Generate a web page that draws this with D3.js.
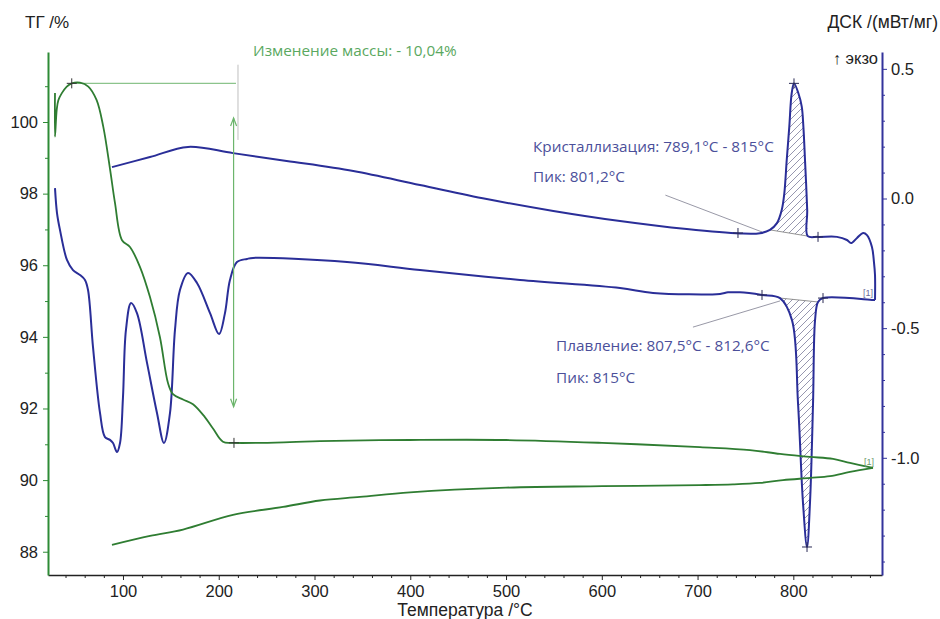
<!DOCTYPE html>
<html><head><meta charset="utf-8">
<script src="https://cdn.jsdelivr.net/npm/d3@7"></script>
<style>body{margin:0;background:#fff}svg{display:block}</style>
</head><body><svg id="c" width="940" height="619"></svg>
<script>
// ---------- DATA ----------
// TG (%) vs temperature (°C)
const tgHeating = [[29.0,100.81],[29.0,99.59],[30.8,100.34],[32.5,100.61],[36.0,100.80],[41.3,100.99],[46.5,101.08],[55.1,101.10],[63.8,100.99],[72.5,100.61],[79.4,99.87],[86.4,98.70],[91.6,97.75],[99.0,96.70],[107.3,96.51],[117.8,95.95],[128.2,95.11],[138.6,93.99],[147.0,92.71],[152.2,92.40],[162.7,92.25],[173.1,92.12],[185.5,91.76],[194.0,91.44],[204.4,91.07],[214.9,91.04],[274.4,91.06],[305.7,91.09],[399.7,91.12],[499.9,91.12],[600.2,91.04],[702.5,90.92],[754.8,90.84],[786.1,90.73],[817.4,90.65],[841.5,90.59],[859.2,90.48],[883.2,90.34]];
const tgCooling = [[883.2,90.34],[859.2,90.23],[838.3,90.11],[817.4,90.06],[789.2,90.00],[765.2,89.92],[737.0,89.88],[702.5,89.86],[600.2,89.83],[499.9,89.79],[399.7,89.66],[347.5,89.53],[305.7,89.43],[267.1,89.25],[214.9,89.03],[162.7,88.62],[128.2,88.44],[88.5,88.19]];
// DSC (mW/mg) vs temperature (°C)
const dscHeating = [[29.0,0.040],[31.1,-0.056],[34.2,-0.121],[41.5,-0.237],[47.8,-0.276],[55.1,-0.295],[60.3,-0.314],[63.5,-0.353],[68.7,-0.573],[76.0,-0.827],[81.2,-0.920],[86.4,-0.931],[89.6,-0.943],[93.7,-0.978],[96.9,-0.943],[100.0,-0.766],[103.1,-0.507],[108.4,-0.403],[114.6,-0.442],[125.1,-0.634],[135.5,-0.827],[142.8,-0.943],[149.1,-0.827],[154.3,-0.507],[159.5,-0.353],[167.9,-0.287],[177.3,-0.326],[190.9,-0.442],[200.3,-0.523],[206.5,-0.442],[211.7,-0.314],[219.0,-0.245],[229.5,-0.233],[235.8,-0.229],[333.9,-0.245],[410.1,-0.276],[514.6,-0.314],[619.0,-0.345],[653.5,-0.364],[723.4,-0.368],[731.8,-0.362],[744.3,-0.362],[767.3,-0.372],[786.1,-0.384],[798.6,-0.469],[804.9,-0.789],[810.1,-1.174],[814.3,-1.344],[817.4,-1.174],[820.6,-0.789],[822.7,-0.469],[825.8,-0.399],[831.0,-0.384],[883.2,-0.391],[885.3,-0.391]];
const dscCooling = [[885.3,-0.391],[885.3,-0.295],[884.2,-0.245],[882.1,-0.187],[876.9,-0.141],[872.8,-0.133],[866.5,-0.152],[860.2,-0.172],[856.0,-0.160],[845.6,-0.148],[825.8,-0.148],[815.1,-0.145],[814.5,-0.044],[812.2,0.148],[810.5,0.277],[808.8,0.354],[805.3,0.406],[800.7,0.444],[798.3,0.406],[795.8,0.277],[793.1,0.148],[790.6,0.020],[787.9,-0.044],[782.7,-0.096],[775.6,-0.121],[765.2,-0.134],[744.3,-0.135],[688.7,-0.118],[619.0,-0.087],[549.4,-0.048],[479.8,-0.002],[410.1,0.052],[340.5,0.106],[270.9,0.145],[214.9,0.175],[167.9,0.199],[128.2,0.160],[88.5,0.121]];

// ticks
const xMajor = [100,200,300,400,500,600,700,800];
const xMinor = d3.range(40, 890, 20);
const tgMajor = [88,90,92,94,96,98,100];
const tgMinor = [89,91,93,95,97,99,101];
const dscMajor = [-1.0,-0.5,0.0,0.5];
const dscMinor = d3.range(-14, 6, 1).map(d => d/10);

// analysis markers
const tgMarks = [[46.5,101.08],[215.9,91.04]];
const dscMarks = [[742.2,-0.133],[825.8,-0.148],[800.7,0.444],[767.3,-0.372],[831.0,-0.384],[814.3,-1.344]];
const crystHatch = {t0:775.6, t1:815.1, b0:-0.121, b1:-0.145};
const meltHatch = {t0:786.1, t1:825.8, b0:-0.384, b1:-0.399};
const massLine = [[46.5,101.08],[218.0,101.08]];
const massArrow = [[215.5,100.11],[215.5,92.05]];
const massGuide = [[220.1,101.6],[220.1,99.5]];
const crystLeader = [[666.4,0.013],[767.3,-0.129]];
const meltLeader = [[695.2,-0.496],[786.1,-0.395]];

// ---------- CHART ----------
const svg = d3.select('#c');
const x = d3.scaleLinear().domain([21.7, 892.6]).range([48, 882]);
const yT = d3.scaleLinear().domain([87.35, 101.955]).range([575, 52]);
const yD = d3.scaleLinear().domain([-1.452, 0.565]).range([575, 52]);

const GREEN = '#2f7d32', BLUE = '#2a2e98', AXG = '#2e8b36', AXB = '#33339c';
const tickFont = '"Liberation Sans", Arial, sans-serif';
const annFont = '"Open Sans", "Noto Sans", sans-serif';

const defs = svg.append('defs');
const pat = defs.append('pattern').attr('id','hatch').attr('patternUnits','userSpaceOnUse')
  .attr('width',7).attr('height',7);
pat.append('path').attr('d','M-1,1 l2,-2 M0,7 l7,-7 M6,8 l2,-2')
  .attr('stroke','#8a8aa6').attr('stroke-width',0.9);

// axes
function styleAxis(g, color, w) {
  g.select('.domain').attr('stroke', color).attr('stroke-width', w);
  g.selectAll('.tick line').attr('stroke', color).attr('stroke-width', 1);
  g.selectAll('text').attr('font-family', tickFont).attr('font-size', 16.5).attr('fill', '#222');
}
const gx = svg.append('g').attr('transform','translate(0,575)')
  .call(d3.axisBottom(x).tickValues(xMajor).tickSize(5).tickPadding(5).tickSizeOuter(0));
styleAxis(gx, '#222', 1.6);
svg.append('g').attr('transform','translate(0,575)')
  .call(d3.axisBottom(x).tickValues(xMinor.filter(v => !xMajor.includes(v))).tickSize(3).tickFormat('').tickSizeOuter(0))
  .call(g => { g.select('.domain').remove(); g.selectAll('line').attr('stroke','#222'); });

const gl = svg.append('g').attr('transform','translate(48,0)')
  .call(d3.axisLeft(yT).tickValues(tgMajor).tickSize(5).tickPadding(5).tickSizeOuter(0));
styleAxis(gl, AXG, 2);
svg.append('g').attr('transform','translate(48,0)')
  .call(d3.axisLeft(yT).tickValues(tgMinor).tickSize(3).tickFormat('').tickSizeOuter(0))
  .call(g => { g.select('.domain').remove(); g.selectAll('line').attr('stroke',AXG); });

const gr = svg.append('g').attr('transform','translate(882,0)')
  .call(d3.axisRight(yD).tickValues(dscMajor).tickSize(5).tickPadding(4).tickSizeOuter(0).tickFormat(d => d.toFixed(1)));
styleAxis(gr, AXB, 2);
svg.append('g').attr('transform','translate(882,0)')
  .call(d3.axisRight(yD).tickValues(dscMinor.filter(v => !dscMajor.some(m => Math.abs(m-v)<1e-6))).tickSize(3).tickFormat('').tickSizeOuter(0))
  .call(g => { g.select('.domain').remove(); g.selectAll('line').attr('stroke',AXB); });

// axis titles
const t = (txt, px, py, anchor, size, fill, fam) => svg.append('text').text(txt)
  .attr('x',px).attr('y',py).attr('text-anchor',anchor||'start')
  .attr('font-family',fam||tickFont).attr('font-size',size||15).attr('fill',fill||'#222');
t('ТГ /%', 25, 28, 'start', 17);
t('ДСК /(мВт/мг)', 938, 28, 'end', 17.5);
t('↑ экзо', 878, 64, 'end', 16.5);
t('Температура /°C', 465, 616, 'middle', 17.5);

// hatched peak areas
function hatch(series, h) {
  const lo = Math.min(h.t0, h.t1), hi = Math.max(h.t0, h.t1);
  const pts = series.filter(d => d[0] >= lo - 1e-6 && d[0] <= hi + 1e-6);
  const base = d3.scaleLinear().domain([h.t0, h.t1]).range([h.b0, h.b1]);
  svg.append('path').datum(pts)
    .attr('d', d3.area().x(d => x(d[0])).y0(d => yD(base(d[0]))).y1(d => yD(d[1])).curve(d3.curveCatmullRom.alpha(0.5)))
    .attr('fill','url(#hatch)').attr('stroke','none');
  svg.append('line').attr('x1',x(h.t0)).attr('y1',yD(h.b0)).attr('x2',x(h.t1)).attr('y2',yD(h.b1))
    .attr('stroke','#777').attr('stroke-width',0.8);
}
hatch(dscCooling, crystHatch);
hatch(dscHeating, meltHatch);

// leader lines
[crystLeader, meltLeader].forEach(l => svg.append('line')
  .attr('x1',x(l[0][0])).attr('y1',yD(l[0][1])).attr('x2',x(l[1][0])).attr('y2',yD(l[1][1]))
  .attr('stroke','#8c8c9c').attr('stroke-width',0.9));

// DSC curves
const lineD = d3.line().x(d => x(d[0])).y(d => yD(d[1])).curve(d3.curveCatmullRom.alpha(0.5));
[dscHeating, dscCooling].forEach(s => svg.append('path').datum(s).attr('d', lineD)
  .attr('fill','none').attr('stroke',BLUE).attr('stroke-width',2).attr('stroke-linejoin','round'));

// TG annotations
const lineT = d3.line().x(d => x(d[0])).y(d => yT(d[1]));
svg.append('path').datum(massLine).attr('d', lineT).attr('stroke','#8cc48c').attr('stroke-width',1.2).attr('fill','none');
svg.append('path').datum(massGuide).attr('d', lineT).attr('stroke','#b8b8b8').attr('stroke-width',0.9).attr('fill','none');
svg.append('path').datum(massArrow).attr('d', lineT).attr('stroke','#6cb56c').attr('stroke-width',1.2).attr('fill','none');
const ax = x(massArrow[0][0]);
svg.append('path').attr('d',`M${ax-3},${yT(massArrow[0][1])+8}L${ax},${yT(massArrow[0][1])}L${ax+3},${yT(massArrow[0][1])+8}`)
  .attr('stroke','#6cb56c').attr('stroke-width',1.2).attr('fill','none');
svg.append('path').attr('d',`M${ax-3},${yT(massArrow[1][1])-8}L${ax},${yT(massArrow[1][1])}L${ax+3},${yT(massArrow[1][1])-8}`)
  .attr('stroke','#6cb56c').attr('stroke-width',1.2).attr('fill','none');

// TG curves
const lineTc = d3.line().x(d => x(d[0])).y(d => yT(d[1])).curve(d3.curveCatmullRom.alpha(0.5));
[tgHeating, tgCooling].forEach(s => svg.append('path').datum(s).attr('d', lineTc)
  .attr('fill','none').attr('stroke',GREEN).attr('stroke-width',1.8).attr('stroke-linejoin','round'));

// cross markers
const cross = (px, py, c) => svg.append('path').attr('d',`M${px-5},${py}H${px+5}M${px},${py-5}V${py+5}`)
  .attr('stroke',c).attr('stroke-width',1);
tgMarks.forEach(d => cross(x(d[0]), yT(d[1]), '#333'));
dscMarks.forEach(d => cross(x(d[0]), yD(d[1]), '#2a2a55'));

// annotation labels
const annG = '#5aa860', annB = '#4b4f9a';
t('Изменение массы: - 10,04%', x(235.8), yT(101.84), 'start', 15.3, annG, annFont);
t('Кристаллизация: 789,1°C - 815°C', x(528.2), yD(0.179), 'start', 15.3, annB, annFont);
t('Пик: 801,2°C', x(528.2), yD(0.064), 'start', 15.3, annB, annFont);
t('Плавление: 807,5°C - 812,6°C', x(552.2), yD(-0.588), 'start', 15.3, annB, annFont);
t('Пик: 815°C', x(552.2), yD(-0.712), 'start', 15.3, annB, annFont);
t('[1]', x(883.2), yD(-0.376), 'end', 9, '#6a6a99');
t('[1]', x(884.2), yT(90.42), 'end', 9, '#6a996a');
</script></body></html>
